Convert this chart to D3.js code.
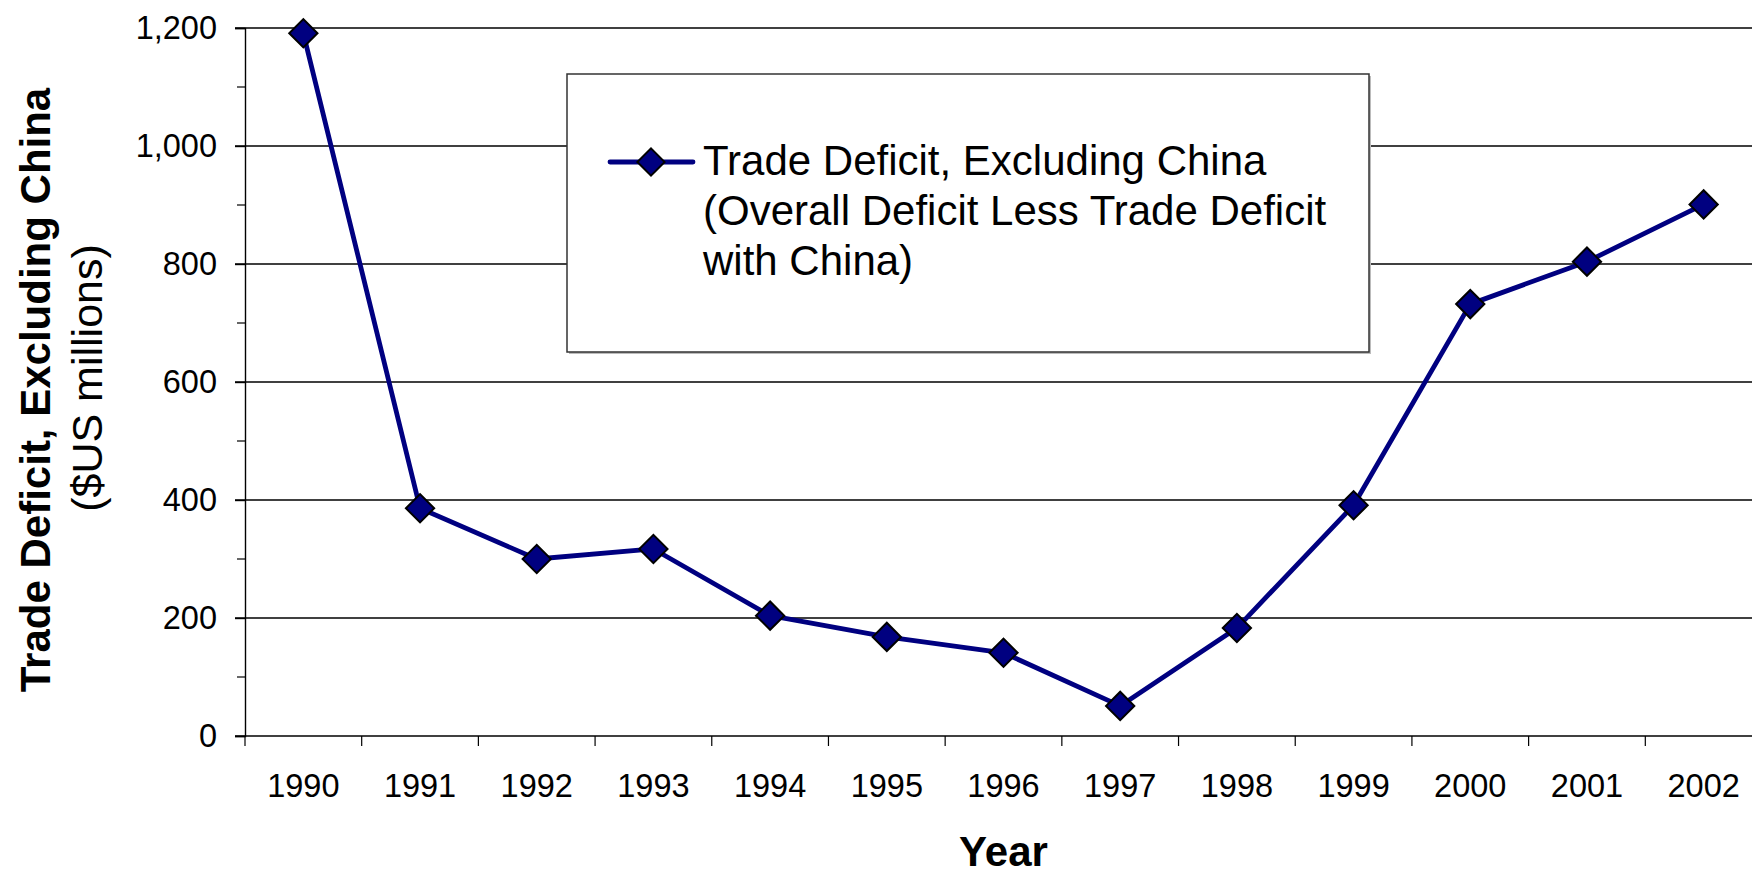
<!DOCTYPE html>
<html>
<head>
<meta charset="utf-8">
<script src="https://cdn.jsdelivr.net/npm/d3@7"></script>
<style>
  body { margin: 0; background: #fff; }
  text { font-family: "Liberation Sans", Arial, sans-serif; fill: #000; }
</style>
</head>
<body>
<div id="chart"></div>
<script>
var years = ['1990', '1991', '1992', '1993', '1994', '1995', '1996', '1997', '1998', '1999', '2000', '2001', '2002'];
var deficit = [1191, 386, 300, 317, 204, 168, 141, 51, 183, 391, 732, 804, 901];
var yTicks = [0, 200, 400, 600, 800, 1000, 1200];
var yMinorTicks = [100, 300, 500, 700, 900, 1100];
var legendLines = ['Trade Deficit, Excluding China', '(Overall Deficit Less Trade Deficit', 'with China)'];

var width = 1752, height = 875;
// plot area runs past the right edge, like the original
var plotLeft = 245, plotTop = 28, plotBottom = 736, plotRight = 1762;

var svg = d3.select('#chart').append('svg')
    .attr('width', width)
    .attr('height', height);

var x = d3.scaleBand()
    .domain(years)
    .range([plotLeft, plotRight])
    .padding(0);

var y = d3.scaleLinear()
    .domain([0, 1200])
    .range([plotBottom, plotTop]);

// gridlines
svg.append('g')
    .selectAll('line')
    .data(yTicks)
    .enter().append('line')
    .attr('x1', plotLeft - 10)
    .attr('x2', width)
    .attr('y1', function(d) { return y(d); })
    .attr('y2', function(d) { return y(d); })
    .attr('stroke', '#000')
    .attr('stroke-width', 1.4);

// y axis
var yAxis = d3.axisLeft(y)
    .tickValues(yTicks)
    .tickSize(10)
    .tickPadding(18)
    .tickFormat(d3.format(','));

var gy = svg.append('g')
    .attr('transform', 'translate(' + plotLeft + ',0)')
    .call(yAxis);
gy.select('.domain').attr('stroke', '#000').attr('stroke-width', 1.4);
gy.selectAll('.tick line').attr('stroke', '#000').attr('stroke-width', 1.4);
gy.selectAll('.tick text')
    .attr('font-size', '32.5px')
    .attr('font-family', '"Liberation Sans", Arial, sans-serif')
    .attr('fill', '#000');

// minor ticks
svg.append('g')
    .selectAll('line')
    .data(yMinorTicks)
    .enter().append('line')
    .attr('x1', plotLeft - 8)
    .attr('x2', plotLeft)
    .attr('y1', function(d) { return y(d); })
    .attr('y2', function(d) { return y(d); })
    .attr('stroke', '#000')
    .attr('stroke-width', 1.2);

// x axis: labels in band centres, ticks on band edges
var xAxis = d3.axisBottom(x)
    .tickSize(0);

var gx = svg.append('g')
    .attr('transform', 'translate(0,' + plotBottom + ')')
    .call(xAxis);
gx.select('.domain').remove();
gx.selectAll('.tick text')
    .attr('font-size', '32.5px')
    .attr('font-family', '"Liberation Sans", Arial, sans-serif')
    .attr('fill', '#000')
    .attr('dy', 0)
    .attr('y', 61);

svg.append('g')
    .selectAll('line')
    .data(years)
    .enter().append('line')
    .attr('x1', function(d) { return x(d); })
    .attr('x2', function(d) { return x(d); })
    .attr('y1', plotBottom)
    .attr('y2', plotBottom + 10)
    .attr('stroke', '#000')
    .attr('stroke-width', 1.2);

// series
var line = d3.line()
    .x(function(d, i) { return x(years[i]) + x.bandwidth() / 2; })
    .y(function(d) { return y(d); });

svg.append('path')
    .datum(deficit)
    .attr('d', line)
    .attr('fill', 'none')
    .attr('stroke', '#000080')
    .attr('stroke-width', 4.8)
    .attr('stroke-linejoin', 'round');

var diamond = d3.symbol().type(d3.symbolSquare).size(400);

svg.append('g')
    .selectAll('path')
    .data(deficit)
    .enter().append('path')
    .attr('d', diamond)
    .attr('transform', function(d, i) {
        return 'translate(' + (x(years[i]) + x.bandwidth() / 2) + ',' + y(d) + ') rotate(45)';
    })
    .attr('fill', '#000080')
    .attr('stroke', '#000')
    .attr('stroke-width', 2);

// legend
var lg = svg.append('g');
lg.append('rect')
    .attr('x', 569).attr('y', 76)
    .attr('width', 802).attr('height', 278)
    .attr('fill', '#bbb');
lg.append('rect')
    .attr('x', 567).attr('y', 74)
    .attr('width', 802).attr('height', 278)
    .attr('fill', '#fff')
    .attr('stroke', '#333')
    .attr('stroke-width', 1.5);
lg.append('line')
    .attr('x1', 610).attr('x2', 693)
    .attr('y1', 162).attr('y2', 162)
    .attr('stroke', '#000080')
    .attr('stroke-width', 4.8)
    .attr('stroke-linecap', 'round');
lg.append('path')
    .attr('d', d3.symbol().type(d3.symbolSquare).size(370))
    .attr('transform', 'translate(651,162) rotate(45)')
    .attr('fill', '#000080')
    .attr('stroke', '#000')
    .attr('stroke-width', 2);
lg.selectAll('text.leg')
    .data(legendLines)
    .enter().append('text')
    .attr('class', 'leg')
    .attr('x', 703)
    .attr('y', function(d, i) { return 175 + i * 50; })
    .attr('font-size', '42px')
    .text(function(d) { return d; });

// axis titles
svg.append('text')
    .attr('x', (plotLeft + plotRight) / 2)
    .attr('y', 866)
    .attr('text-anchor', 'middle')
    .attr('font-size', '42px')
    .attr('font-weight', 'bold')
    .text('Year');

svg.append('text')
    .attr('transform', 'translate(50,390) rotate(-90)')
    .attr('text-anchor', 'middle')
    .attr('font-size', '42px')
    .attr('font-weight', 'bold')
    .text('Trade Deficit, Excluding China');

svg.append('text')
    .attr('transform', 'translate(102,378) rotate(-90)')
    .attr('text-anchor', 'middle')
    .attr('font-size', '43px')
    .text('($US millions)');
</script>
</body>
</html>
